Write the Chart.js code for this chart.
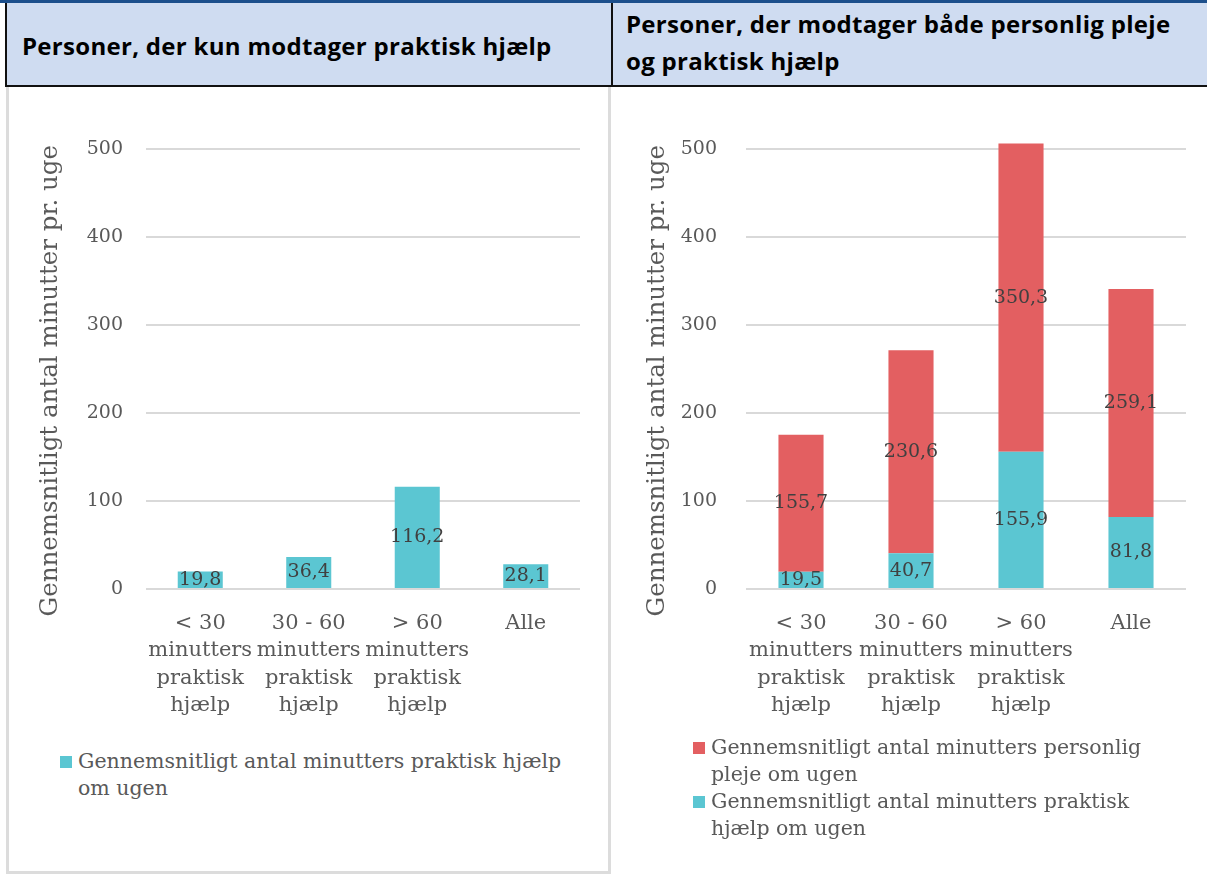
<!DOCTYPE html>
<html lang="da">
<head>
<meta charset="utf-8">
<script src="https://cdn.jsdelivr.net/npm/chart.js@4"></script>
<style>
  body { margin: 0; background: #fff; }
  #page { position: relative; width: 1207px; height: 874px; overflow: hidden; }
  .top-line { position: absolute; left: 0; top: 0; width: 1207px; height: 3px; background: #1c4f8c; }
  .head { position: absolute; top: 3px; height: 82px; background: #cfdcf1; border-bottom: 2px solid #111;
          font-family: "Open Sans", sans-serif; font-weight: 700; font-size: 24px; letter-spacing: 0.3px; color: #000; }
  #headL { left: 5px; width: 604px; border-left: 2px solid #111; }
  #headR { left: 611px; width: 596px; border-left: 2px solid #111; }
  #headL span { position: absolute; left: 15px; top: 28px; line-height: 30px; }
  #headR span { position: absolute; left: 13px; top: 2px; line-height: 37px; }
  .vline { position: absolute; top: 87px; width: 3px; height: 787px; background: #dcdcdc; }
  .hline { position: absolute; left: 6px; top: 871px; width: 605px; height: 3px; background: #dcdcdc; }
  canvas { position: absolute; }
  .legend { position: absolute; font-family: "DejaVu Serif", serif; font-size: 20.5px; color: #595959; line-height: 27px; }
  .legend div { position: relative; padding-left: 18px; }
  .legend i { position: absolute; left: 0; top: 8px; width: 12px; height: 12px; }
</style>
</head>
<body>
<div id="page">
  <div class="top-line"></div>
  <div class="head" id="headL"><span>Personer, der kun modtager praktisk hjælp</span></div>
  <div class="head" id="headR"><span>Personer, der modtager både personlig pleje<br>og praktisk hjælp</span></div>
  <div class="vline" style="left:6px"></div>
  <div class="vline" style="left:608px"></div>
  <div class="hline"></div>

  <canvas id="chartL" width="595" height="640" style="left:8px;top:100px"></canvas>
  <canvas id="chartR" width="590" height="635" style="left:612px;top:100px"></canvas>
  <div class="legend" id="legendL" style="left:60px;top:748px;width:525px"></div>
  <div class="legend" id="legendR" style="left:693px;top:734px;width:480px"></div>
</div>

<script>
// kategorier (x-aksen)
const categories = [
    ["< 30", "minutters", "praktisk", "hjælp"],
    ["30 - 60", "minutters", "praktisk", "hjælp"],
    ["> 60", "minutters", "praktisk", "hjælp"],
    ["Alle"]
];

// venstre: kun praktisk hjælp
const kunPraktisk = [19.8, 36.4, 116.2, 28.1];

// højre: både personlig pleje og praktisk hjælp
const begge_praktisk = [19.5, 40.7, 155.9, 81.8];
const begge_personlig = [155.7, 230.6, 350.3, 259.1];

const yTicks = [0, 100, 200, 300, 400, 500];

const labelPraktisk = "Gennemsnitligt antal minutters praktisk hjælp om ugen";
const labelPersonlig = "Gennemsnitligt antal minutters personlig pleje om ugen";
const yTitle = "Gennemsnitligt antal minutter pr. uge";

const CYAN = "#5bc6d2";
const RED = "#e35f61";
const SERIF = "'DejaVu Serif', serif";

// tal med komma i søjlerne
const valueLabels = {
    id: "valueLabels",
    afterDatasetsDraw(chart) {
        const ctx = chart.ctx;
        ctx.save();
        ctx.font = "19px " + SERIF;
        ctx.fillStyle = "#404040";
        ctx.textAlign = "center";
        ctx.textBaseline = "middle";
        chart.data.datasets.forEach((ds, i) => {
            chart.getDatasetMeta(i).data.forEach((bar, j) => {
                const mid = (bar.y + bar.base) / 2;
                ctx.fillText(ds.data[j].toFixed(1).replace(".", ","), bar.x, mid);
            });
        });
        ctx.restore();
    }
};

function makeChart(id, datasets, opt) {
    return new Chart(document.getElementById(id), {
        type: "bar",
        data: { labels: categories, datasets: datasets },
        plugins: [valueLabels],
        options: {
            responsive: false,
            animation: false,
            layout: { padding: { left: opt.padLeft, right: opt.padRight, top: 49, bottom: 0 } },
            plugins: { legend: { display: false }, tooltip: { enabled: false } },
            datasets: { bar: { barPercentage: 1, categoryPercentage: opt.catPct, clip: false } },
            scales: {
                x: {
                    stacked: true,
                    grid: { display: false },
                    border: { display: false },
                    ticks: { color: "#595959", font: { family: SERIF, size: 21, lineHeight: 1.3 }, padding: 13, maxRotation: 0, autoSkip: false },
                    afterFit: (s) => { s.height = opt.xHeight; }
                },
                y: {
                    stacked: true,
                    min: 0, max: 500,
                    afterBuildTicks: (s) => { s.ticks = yTicks.map(v => ({ value: v })); },
                    grid: { color: "#d9d9d9", lineWidth: 2, drawTicks: false },
                    border: { display: false },
                    ticks: { color: "#595959", font: { family: SERIF, size: 19 }, padding: opt.tickPad },
                    // mellemrum til sidst flytter titlen lidt ned som i originalen
                    title: { display: true, text: yTitle + "   ", color: "#595959", font: { family: SERIF, size: 24.5 }, padding: 4 },
                    afterFit: (s) => { s.width = opt.yWidth; }
                }
            }
        }
    });
}

const chartL = makeChart("chartL", [
    { label: labelPraktisk, data: kunPraktisk, backgroundColor: CYAN }
], { padLeft: 24, padRight: 23, yWidth: 114, tickPad: 23, catPct: 0.415, xHeight: 640 - 49 - 440 });

const chartR = makeChart("chartR", [
    { label: labelPraktisk, data: begge_praktisk, backgroundColor: CYAN },
    { label: labelPersonlig, data: begge_personlig, backgroundColor: RED }
], { padLeft: 27, padRight: 16, yWidth: 107, tickPad: 29, catPct: 0.41, xHeight: 635 - 49 - 440 });

// legender (HTML, så teksten kan ombrydes)
function buildLegend(el, chart, reverse) {
    let items = chart.data.datasets.map(ds => ({ text: ds.label, color: ds.backgroundColor }));
    if (reverse) items = items.reverse();
    el.innerHTML = items.map(it => '<div><i style="background:' + it.color + '"></i>' + it.text + '</div>').join("");
}
buildLegend(document.getElementById("legendL"), chartL, false);
buildLegend(document.getElementById("legendR"), chartR, true);
</script>
</body>
</html>
